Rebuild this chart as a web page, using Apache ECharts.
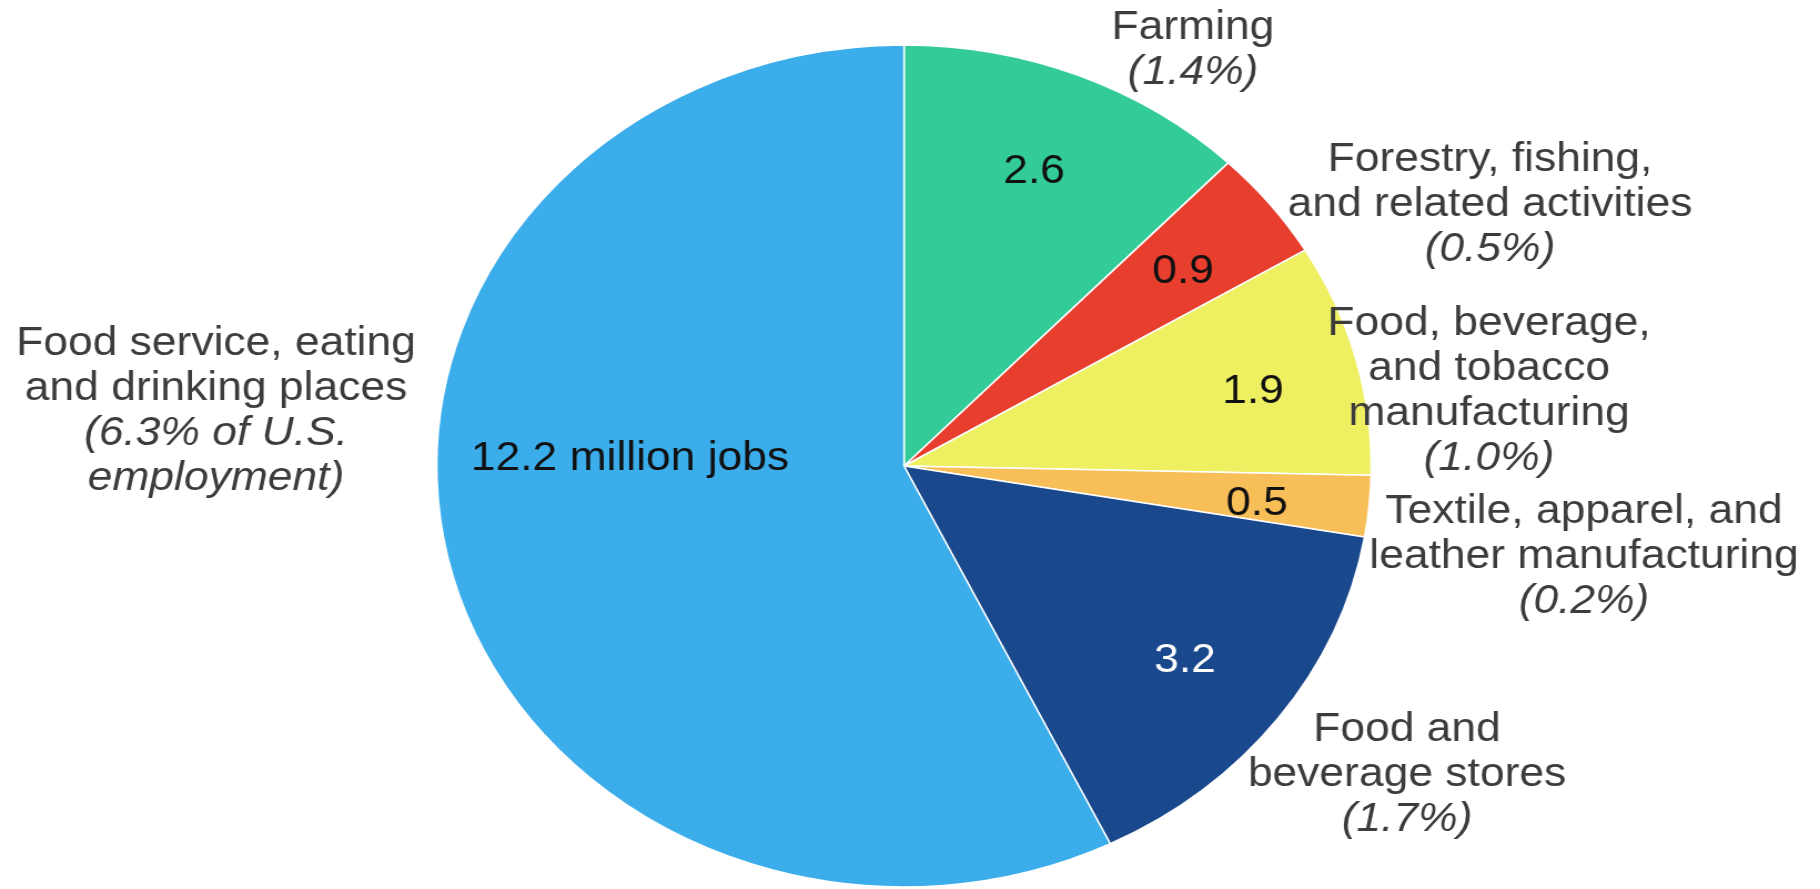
<!DOCTYPE html>
<html>
<head>
<meta charset="utf-8">
<script src="https://cdn.jsdelivr.net/npm/echarts@6/dist/echarts.min.js"></script>
<style>
html,body{margin:0;padding:0;background:#fff;overflow:hidden}
#wrap{width:1820px;height:889px;overflow:hidden}
#chart{width:1640px;height:889px;transform:scaleX(1.1098);transform-origin:0 0}
</style>
</head>
<body>
<div id="wrap"><div id="chart"></div></div>
<script>
// ---- data ----
const categories = [
  'Farming',
  'Forestry, fishing, and related activities',
  'Food, beverage, and tobacco manufacturing',
  'Textile, apparel, and leather manufacturing',
  'Food and beverage stores',
  'Food service, eating and drinking places'
];
const jobsMillions = [2.6, 0.9, 1.9, 0.5, 3.2, 12.2];
const shareOfUSEmployment = ['1.4%', '0.5%', '1.0%', '0.2%', '1.7%', '6.3% of U.S. employment'];
const nameLines = [
  ['Farming'],
  ['Forestry, fishing,', 'and related activities'],
  ['Food, beverage,', 'and tobacco', 'manufacturing'],
  ['Textile, apparel, and', 'leather manufacturing'],
  ['Food and', 'beverage stores'],
  ['Food service, eating', 'and drinking places']
];
const shareLines = [
  ['(1.4%)'], ['(0.5%)'], ['(1.0%)'], ['(0.2%)'], ['(1.7%)'],
  ['(6.3% of U.S.', 'employment)']
];

// ---- layout / style ----
const SX = 1.1098;             // horizontal stretch of the reference picture
const colors = ['#33cc98', '#e83e2e', '#eef061', '#f8bf58', '#19488c', '#3badeb'];
const innerTextColors = ['#111', '#111', '#111', '#111', '#ffffff', '#111'];
const innerLabelAt = [[1034, 172], [1183, 272], [1253, 392], [1257, 504], [1185, 661], [630, 459]];
const outerLabelAt = [[1193, 50], [1490, 205], [1489, 391], [1584, 557], [1407, 775], [216, 411]];
const FONT = '"Liberation Sans", Arial, sans-serif';
const center = [904 / SX, 466];
const radius = 421;

const data = categories.map((c, i) => ({
  name: c,
  value: jobsMillions[i],
  itemStyle: { color: colors[i] }
}));

const chart = echarts.init(document.getElementById('chart'), null, { renderer: 'canvas' });
chart.setOption({
  animation: false,
  backgroundColor: '#ffffff',
  series: [
    {
      type: 'pie',
      center: center,
      radius: [0, radius],
      startAngle: 90,
      clockwise: true,
      silent: true,
      itemStyle: { borderColor: '#ffffff', borderWidth: 1.5 },
      label: {
        show: true,
        position: 'inside',
        fontFamily: FONT,
        fontSize: 40,
        formatter: p => p.dataIndex === 5 ? p.value + ' million jobs' : String(p.value),
        color: '#111'
      },
      labelLine: { show: false },
      labelLayout: p => {
        const c = innerLabelAt[p.dataIndex];
        return { x: c[0] / SX, y: c[1], align: 'center', verticalAlign: 'middle' };
      },
      data: data.map((d, i) => Object.assign({}, d, { label: { color: innerTextColors[i] } }))
    },
    {
      type: 'pie',
      center: center,
      radius: [0, radius],
      startAngle: 90,
      clockwise: true,
      silent: true,
      z: 3,
      itemStyle: { color: 'transparent', borderWidth: 0 },
      label: {
        show: true,
        position: 'inside',
        fontFamily: FONT,
        fontSize: 40,
        lineHeight: 45,
        color: '#3c3c3c',
        align: 'center',
        formatter: p => {
          const i = p.dataIndex;
          return nameLines[i].map(s => '{n|' + s + '}').join('\n') + '\n' +
                 shareLines[i].map(s => '{it|' + s + '}').join('\n');
        },
        rich: {
          n: { fontFamily: FONT, fontSize: 40, lineHeight: 45, color: '#3c3c3c', align: 'center' },
          it: { fontFamily: FONT, fontSize: 40, lineHeight: 45, color: '#3c3c3c', fontStyle: 'italic', align: 'center' }
        }
      },
      labelLine: { show: false },
      labelLayout: p => {
        const c = outerLabelAt[p.dataIndex];
        return { x: c[0] / SX, y: c[1], align: 'center', verticalAlign: 'middle' };
      },
      data: categories.map((c, i) => ({ name: c, value: jobsMillions[i], itemStyle: { color: 'transparent' } }))
    }
  ]
});
</script>
</body>
</html>
